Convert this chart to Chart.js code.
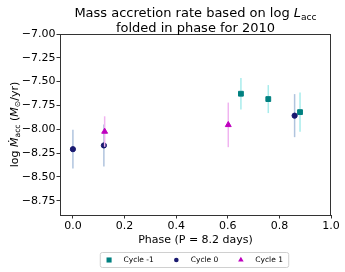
<!DOCTYPE html>
<html>
<head>
<meta charset="utf-8">
<script src="https://cdn.jsdelivr.net/npm/chart.js@4.4.0/dist/chart.umd.min.js"></script>
<style>
  html, body { margin: 0; padding: 0; background: #fff; }
</style>
</head>
<body>
<canvas id="mainChart" width="345" height="272"></canvas>
<script>
const FONT = "'DejaVu Sans', sans-serif";

const X_TICKS = [0.0, 0.2, 0.4, 0.6, 0.8, 1.0];
const Y_TICKS = [-7.0, -7.25, -7.5, -7.75, -8.0, -8.25, -8.5, -8.75];

const CYCLES = ["Cycle -1", "Cycle 0", "Cycle 1"];

const CYCLE_M1_PHASE = [0.651, 0.757, 0.880];
const CYCLE_M1_MDOT = [-7.627, -7.683, -7.82];
const CYCLE_M1_ERR = [0.166, 0.147, 0.206];

const CYCLE_0_PHASE = [0.0, 0.120, 0.859];
const CYCLE_0_MDOT = [-8.209, -8.17, -7.857];
const CYCLE_0_ERR = [0.203, 0.22, 0.226];

const CYCLE_1_PHASE = [0.123, 0.602];
const CYCLE_1_MDOT = [-8.024, -7.954];
const CYCLE_1_ERR = [0.16, 0.234];

function points(xs, ys) {
  return xs.map((x, i) => ({ x: x, y: ys[i] }));
}

function minusFmt(v, digits) {
  const s = Math.abs(v).toFixed(digits);
  return v < -1e-9 ? "\u2212" + s : s;
}

// draws a run of text pieces: {t, italic, sub}
function drawRich(ctx, parts, x, y, size) {
  const widths = parts.map((p) => {
    ctx.font = `${p.italic ? "italic " : ""}${p.sub ? size * 0.7 : size}px ${FONT}`;
    return ctx.measureText(p.t).width;
  });
  const total = widths.reduce((a, b) => a + b, 0);
  let cx = x - total / 2;
  ctx.textAlign = "left";
  ctx.textBaseline = "alphabetic";
  parts.forEach((p, i) => {
    ctx.font = `${p.italic ? "italic " : ""}${p.sub ? size * 0.7 : size}px ${FONT}`;
    ctx.fillText(p.t, cx, y + (p.sub ? size * 0.22 : 0));
    cx += widths[i];
  });
}

const errorBars = {
  id: "errorBars",
  beforeDatasetDraw(chart, args) {
    const ds = chart.data.datasets[args.index];
    if (!ds.errors) return;
    const { ctx, scales } = chart;
    ctx.save();
    ctx.strokeStyle = ds.errorColor;
    ctx.lineWidth = 1.5;
    ds.data.forEach((p, i) => {
      const px = scales.x.getPixelForValue(p.x);
      ctx.beginPath();
      ctx.moveTo(px, scales.y.getPixelForValue(p.y - ds.errors[i]));
      ctx.lineTo(px, scales.y.getPixelForValue(p.y + ds.errors[i]));
      ctx.stroke();
    });
    ctx.restore();
  }
};

const decorations = {
  id: "decorations",
  afterDraw(chart) {
    const { ctx, chartArea: a } = chart;
    ctx.save();
    // frame
    ctx.strokeStyle = "#333";
    ctx.lineWidth = 1;
    ctx.strokeRect(Math.round(a.left) + 0.5, Math.round(a.top) + 0.5,
      Math.round(a.right - a.left) - 1, Math.round(a.bottom - a.top));

    ctx.fillStyle = "#000";
    const cx = (a.left + a.right) / 2;
    // title
    drawRich(ctx, [
      { t: "Mass accretion rate based on log " },
      { t: "L", italic: true },
      { t: "acc", sub: true }
    ], cx, 17, 13);
    drawRich(ctx, [{ t: "folded in phase for 2010" }], cx, 31.5, 13);

    // y-axis label
    ctx.save();
    ctx.translate(17.5, (a.top + a.bottom) / 2);
    ctx.rotate(-Math.PI / 2);
    drawRich(ctx, [
      { t: "log " },
      { t: "\u1E40", italic: true },
      { t: "acc", sub: true },
      { t: " (" },
      { t: "M", italic: true },
      { t: "\u2299", sub: true },
      { t: "/yr)" }
    ], 0, 0, 11);
    ctx.restore();

    // legend
    const size = 7.5;
    ctx.font = `${size}px ${FONT}`;
    const items = chart.data.datasets.map((ds) => ({
      ds, w: ctx.measureText(ds.label).width
    }));
    const padL = 9.3, markGap = 14.4, itemGap = 22.5, padR = 5.3;
    const total = padL + items.reduce((s, it) => s + markGap + it.w, 0) +
      itemGap * (items.length - 1) + padR;
    const left = cx - 1.5 - total / 2;
    const ly = 260;
    ctx.strokeStyle = "#d0d0d0";
    ctx.lineWidth = 1;
    ctx.fillStyle = "#fff";
    ctx.beginPath();
    ctx.roundRect(left + 0.5, 252.5, total, 15, 2);
    ctx.fill();
    ctx.stroke();
    let x = left + padL;
    items.forEach((it) => {
      ctx.fillStyle = it.ds.backgroundColor;
      ctx.beginPath();
      Chart.helpers.drawPoint(ctx, {
        pointStyle: it.ds.pointStyle,
        radius: it.ds.legendRadius,
        borderWidth: 0
      }, x, ly);
      ctx.fillStyle = "#000";
      ctx.font = `${size}px ${FONT}`;
      ctx.textAlign = "left";
      ctx.textBaseline = "middle";
      ctx.fillText(it.ds.label, x + markGap, ly);
      x += markGap + it.w + itemGap;
    });
    ctx.restore();
  }
};

const ctx = document.getElementById("mainChart").getContext("2d");
new Chart(ctx, {
  type: "scatter",
  data: {
    datasets: [
      {
        label: CYCLES[0],
        data: points(CYCLE_M1_PHASE, CYCLE_M1_MDOT),
        errors: CYCLE_M1_ERR,
        errorColor: "#a8ecec",
        pointStyle: "rect",
        pointRadius: 3.4,
        legendRadius: 3.6,
        backgroundColor: "#008080",
        borderColor: "#008080",
        borderWidth: 1,
        order: 2
      },
      {
        label: CYCLES[1],
        data: points(CYCLE_0_PHASE, CYCLE_0_MDOT),
        errors: CYCLE_0_ERR,
        errorColor: "#b0c4de",
        pointStyle: "circle",
        pointRadius: 2.6,
        legendRadius: 2.3,
        backgroundColor: "#191970",
        borderColor: "#191970",
        borderWidth: 1,
        order: 1
      },
      {
        label: CYCLES[2],
        data: points(CYCLE_1_PHASE, CYCLE_1_MDOT),
        errors: CYCLE_1_ERR,
        errorColor: "#f0b4f0",
        pointStyle: "triangle",
        pointRadius: 3.4,
        legendRadius: 3.2,
        backgroundColor: "#bf00bf",
        borderColor: "#bf00bf",
        borderWidth: 1,
        order: 0
      }
    ]
  },
  options: {
    responsive: false,
    animation: false,
    devicePixelRatio: 1,
    layout: { padding: { top: 34, right: 14, bottom: 25, left: 0 } },
    plugins: {
      legend: { display: false },
      title: { display: false },
      tooltip: { enabled: false }
    },
    scales: {
      x: {
        type: "linear",
        min: -0.05,
        max: 1.0,
        afterBuildTicks: (s) => { s.ticks = X_TICKS.map((v) => ({ value: v })); },
        afterFit: (s) => { s.height = 32; },
        ticks: {
          color: "#000",
          font: { family: FONT, size: 11 },
          padding: 1,
          maxRotation: 0,
          autoSkip: false,
          callback: (v) => minusFmt(v, 1)
        },
        grid: { drawOnChartArea: false, tickLength: 3.5, color: "#333" },
        border: { color: "#333" },
        title: {
          display: true,
          text: "Phase (P = 8.2 days)",
          color: "#000",
          font: { family: FONT, size: 11 },
          padding: { top: 0, bottom: 0.5 }
        }
      },
      y: {
        type: "linear",
        min: -8.9,
        max: -7.0,
        afterBuildTicks: (s) => { s.ticks = Y_TICKS.map((v) => ({ value: v })); },
        afterFit: (s) => { s.width = 60; },
        ticks: {
          color: "#000",
          font: { family: FONT, size: 11 },
          padding: 1,
          autoSkip: false,
          callback: (v) => minusFmt(v, 2)
        },
        grid: { drawOnChartArea: false, tickLength: 3.5, color: "#333" },
        border: { color: "#333" }
      }
    }
  },
  plugins: [errorBars, decorations]
});
</script>
</body>
</html>
